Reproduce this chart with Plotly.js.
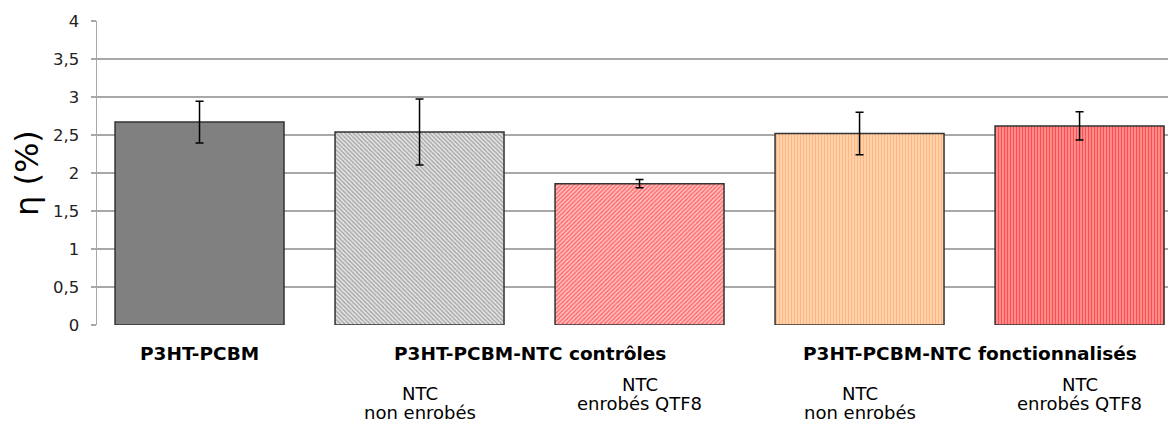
<!DOCTYPE html>
<html>
<head>
<meta charset="utf-8">
<script src="https://cdn.plot.ly/plotly-3.0.1.min.js"></script>
<style>html,body{margin:0;padding:0;background:#fff;}#chart{width:1168px;height:425px;}</style>
</head>
<body>
<div id="chart"></div>
<script>
// ---- data ----
const categories = ["P3HT-PCBM", "contrôles NTC non enrobés", "contrôles NTC enrobés QTF8", "fonctionnalisés NTC non enrobés", "fonctionnalisés NTC enrobés QTF8"];
const efficiency = [2.67, 2.54, 1.86, 2.52, 2.62];
const errors = [0.275, 0.435, 0.055, 0.28, 0.185];
const groupLabels = ["P3HT-PCBM", "P3HT-PCBM-NTC contrôles", "P3HT-PCBM-NTC fonctionnalisés"];
const groupCenters = [0, 1.5, 3.5];
const subLine1 = ["", "NTC", "NTC", "NTC", "NTC"];
const subLine2 = ["", "non enrobés", "enrobés QTF8", "non enrobés", "enrobés QTF8"];
const yTicks = [0, 0.5, 1, 1.5, 2, 2.5, 3, 3.5, 4];
const yTickText = ["0", "0,5", "1", "1,5", "2", "2,5", "3", "3,5", "4"];
const yTitle = "η (%)";

// ---- styles ----
const patShapes = ["", "\\", "/", "|", "|"];
const patFg = ["#808080", "#a4a4a4", "#ff6464", "#ffb680", "#ff4c4c"];
const patBg = ["#808080", "#e6e6e6", "#ffc4c4", "#ffd8b4", "#ff9a9a"];

const traces = categories.map((c, i) => ({
  type: "bar",
  x: [c],
  y: [efficiency[i]],
  width: 0.768,
  marker: {
    color: patBg[i],
    line: {color: "#333333", width: 1.5},
    pattern: patShapes[i] ? {shape: patShapes[i], fgcolor: patFg[i], bgcolor: patBg[i], size: 3, solidity: 0.45, fillmode: "replace"} : undefined
  },
  error_y: {type: "data", array: [errors[i]], visible: true, color: "#000", thickness: 1.5, width: 4},
  hoverinfo: "skip"
}));

const FONT = "DejaVu Sans, Verdana, sans-serif";
const annotations = [];
groupLabels.forEach((t, i) => {
  annotations.push({text: "<b>" + t + "</b>", x: groupCenters[i], xref: "x", y: 0, yref: "paper",
    yshift: -28, xanchor: "center", yanchor: "middle", showarrow: false,
    font: {family: FONT, size: 18.5, color: "#000"}});
});
categories.forEach((c, i) => {
  if (!subLine1[i]) return;
  const low = subLine2[i].indexOf("non") === 0;
  annotations.push({text: subLine1[i], x: c, xref: "x", y: 0, yref: "paper",
    yshift: low ? -68 : -59, xanchor: "center", yanchor: "middle", showarrow: false,
    font: {family: FONT, size: 18, color: "#000"}});
  annotations.push({text: subLine2[i], x: c, xref: "x", y: 0, yref: "paper",
    yshift: low ? -87 : -78, xanchor: "center", yanchor: "middle", showarrow: false,
    font: {family: FONT, size: 18, color: "#000"}});
});
annotations.push({text: yTitle, x: 0, xref: "paper", y: 0.5, yref: "paper", xshift: -70,
  xanchor: "center", yanchor: "middle", textangle: -90, showarrow: false,
  font: {family: FONT, size: 32, color: "#000"}});

const layout = {
  width: 1168, height: 425,
  margin: {l: 97, r: 0, t: 21, b: 100},
  paper_bgcolor: "#fff", plot_bgcolor: "#fff",
  showlegend: false,
  barmode: "overlay",
  xaxis: {type: "category", categoryorder: "array", categoryarray: categories, range: [-0.466, 4.402],
    showticklabels: false, showgrid: false, zeroline: false, showline: false, ticks: ""},
  yaxis: {range: [0, 4], tickvals: yTicks, ticktext: yTickText, showgrid: true,
    gridcolor: "#a8a8a8", gridwidth: 1.5, showline: true, linecolor: "#a8a8a8", linewidth: 1.5,
    ticks: "outside", ticklen: 5, tickcolor: "#a8a8a8", tickwidth: 1.5, zeroline: false,
    tickfont: {family: FONT, size: 16.5, color: "#222"}, ticklabelstandoff: 8},
  annotations: annotations
};

Plotly.newPlot("chart", traces, layout, {staticPlot: true, displayModeBar: false});
</script>
</body>
</html>
